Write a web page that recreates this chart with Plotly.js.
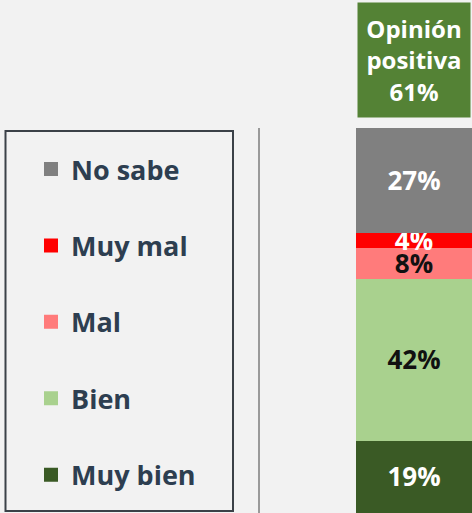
<!DOCTYPE html>
<html>
<head>
<meta charset="utf-8">
<script src="https://cdn.plot.ly/plotly-3.0.1.min.js"></script>
<style>html,body{margin:0;padding:0;background:#f2f2f2;}#chart{width:472px;height:513px;}</style>
</head>
<body>
<div id="chart"></div>
<script>
// Data (bottom to top of stack)
const categories = ['Muy bien', 'Bien', 'Mal', 'Muy mal', 'No sabe'];
const values = [19, 42, 8, 4, 27];
const colors = ['#3a5a25', '#a9d18e', '#ff7b7b', '#ff0000', '#808080'];
const labelColors = ['#ffffff', '#111111', '#111111', '#ffffff', '#ffffff'];
const boxTitle = 'Opinión<br>positiva';
const positiveCats = ['Muy bien', 'Bien'];

const positive = categories.reduce((s, c, i) => s + (positiveCats.includes(c) ? values[i] : 0), 0);

const traces = categories.map((c, i) => ({
  type: 'bar',
  name: c,
  x: [0],
  y: [values[i]],
  width: [1],
  legendgroup: c,
  legendrank: categories.length - i,
  marker: {color: colors[i], line: {color: colors[i], width: 2}},
  text: [values[i] + '%'],
  texttemplate: '%{text}',
  textposition: 'inside',
  insidetextanchor: 'middle',
  constraintext: 'none',
  textangle: 0,
  textfont: {family: 'Open Sans', size: 26, color: labelColors[i], weight: 'bold'},
  hoverinfo: 'name+y'
}));

const layout = {
  width: 472, height: 513,
  margin: {l: 0, r: 0, t: 128, b: 0, pad: 0},
  paper_bgcolor: '#f2f2f2',
  plot_bgcolor: '#f2f2f2',
  barmode: 'stack',
  bargap: 0,
  showlegend: true,
  legend: {
    x: 31/472, xanchor: 'left',
    y: (513-145)/385, yanchor: 'top',
    traceorder: 'grouped',
    tracegroupgap: 38.3,
    bgcolor: 'rgba(0,0,0,0)',
    borderwidth: 0,
    font: {family: 'Open Sans', size: 27, color: '#2d3e50', weight: 'bold'}
  },
  xaxis: {domain: [356/472, 1], range: [-0.5, 0.5], visible: false, fixedrange: true},
  yaxis: {range: [0, 100], visible: false, fixedrange: true},
  shapes: [
    {type: 'rect', xref: 'paper', yref: 'paper', x0: 5.5/472, x1: 233/472, y0: (513-511)/385, y1: (513-131)/385,
     line: {color: '#3b4148', width: 2}, fillcolor: 'rgba(0,0,0,0)'},
    {type: 'line', xref: 'paper', yref: 'paper', x0: 259/472, x1: 259/472, y0: 0, y1: (513-128)/385,
     line: {color: '#9a9a9a', width: 2}}
  ],
  annotations: [{
    xref: 'paper', yref: 'paper', x: 414/472, y: (513-60)/385, xanchor: 'center', yanchor: 'middle',
    text: boxTitle + '<br>' + positive + '%', showarrow: false,
    width: 112, height: 114, borderpad: 0, bgcolor: '#548235',
    font: {family: 'Open Sans', size: 24, color: '#ffffff', weight: 'bold'}, align: 'center'
  }]
};

Plotly.newPlot('chart', traces, layout, {displayModeBar: false, staticPlot: true});
</script>
</body>
</html>
